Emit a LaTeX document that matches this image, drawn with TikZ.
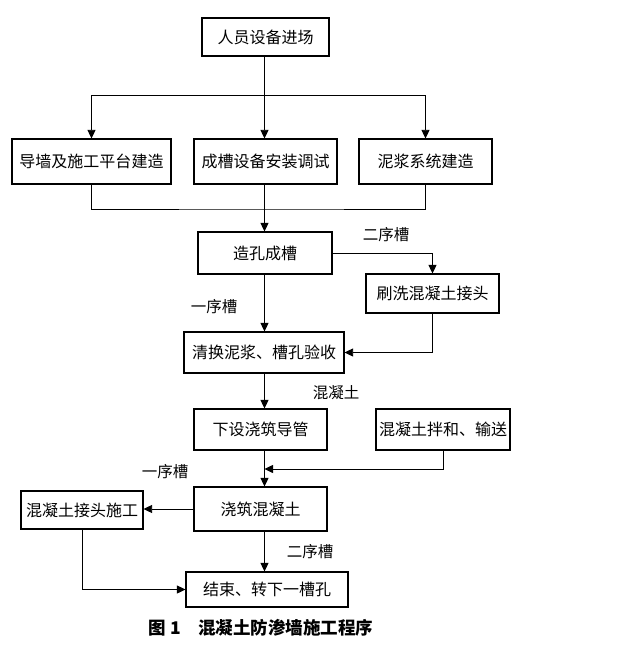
\documentclass[tikz,border=0pt]{standalone}
\usepackage{fontspec}
\setmainfont{Noto Sans CJK SC}
\usetikzlibrary{arrows.meta}
\begin{document}
\begin{tikzpicture}[x=1pt,y=-1pt,
  box/.style={draw,line width=1.1pt,inner sep=0pt,font=\fontsize{16}{18}\selectfont},
  lab/.style={inner sep=0pt,font=\fontsize{15.5}{18}\selectfont},
  conn/.style={line width=0.8pt},
  arr/.style={conn,-{Triangle[length=8.5pt,width=8pt]}}]
\useasboundingbox (0,0) rectangle (619,650);
\coordinate (sp) at (264.5,0);
% boxes
\node[box,minimum width=127pt,minimum height=38pt] (n1) at (265.5,37) {人员设备进场};
\node[box,minimum width=159pt,minimum height=45pt] (n2) at (91.5,161.5) {导墙及施工平台建造};
\node[box,minimum width=143pt,minimum height=45pt] (n3) at (265.5,161.5) {成槽设备安装调试};
\node[box,minimum width=133pt,minimum height=45pt] (n4) at (425.5,161.5) {泥浆系统建造};
\node[box,minimum width=134pt,minimum height=42pt] (n5) at (265,253) {造孔成槽};
\node[box,minimum width=133pt,minimum height=39pt] (n6) at (432.5,293.5) {刷洗混凝土接头};
\node[box,minimum width=160pt,minimum height=41pt] (n7) at (264,352.5) {清换泥浆、槽孔验收};
\node[box,minimum width=133pt,minimum height=41pt] (n8) at (260.5,429.5) {下设浇筑导管};
\node[box,minimum width=134pt,minimum height=41pt] (n9) at (443,429.5) {混凝土拌和、输送};
\node[box,minimum width=133pt,minimum height=44pt] (n10) at (260.5,509) {浇筑混凝土};
\node[box,minimum width=122pt,minimum height=38pt] (n11) at (82,510) {混凝土接头施工};
\node[box,minimum width=162pt,minimum height=35pt] (n12) at (267,589.5) {结束、转下一槽孔};
% labels
\node[lab] (l1) at (386,235) {二序槽};
\node[lab] (l2) at (214,307) {一序槽};
\node[lab] (l3) at (336,393) {混凝土};
\node[lab] (l4) at (165,472) {一序槽};
\node[lab] (l5) at (310,552) {二序槽};
\node[inner sep=0pt,font=\fontsize{17.5}{20}\selectfont\bfseries] (cap) at (261,628) {图 1\hspace{1em}混凝土防渗墙施工程序};
% junctions
\coordinate (j1) at (264.5,95);
\coordinate (j2) at (264.5,209);
\coordinate (j3) at (264.5,469);
% connectors
\draw[arr] (n1.south -| sp) -- (n3.north -| sp);
\draw[arr] (j1) -| (n2.north);
\draw[arr] (j1) -| (n4.north);
\draw[conn] (n2.south) |- (j2) -| (n4.south);
\draw[arr] (n3.south -| sp) -- (n5.north -| sp);
\draw[arr] (n5.east) -| (n6.north);
\draw[arr] (n5.south -| sp) -- (n7.north -| sp);
\draw[arr] (n6.south) |- (n7.east);
\draw[arr] (n7.south -| sp) -- (n8.north -| sp);
\draw[arr] (n9.south) |- (j3);
\draw[arr] (n8.south -| sp) -- (n10.north -| sp);
\draw[arr] (n10.west) -- (n10.west -| n11.east);
\draw[arr] (n11.south) |- (n12.west);
\draw[arr] (n10.south -| sp) -- (n12.north -| sp);
\end{tikzpicture}
\end{document}
